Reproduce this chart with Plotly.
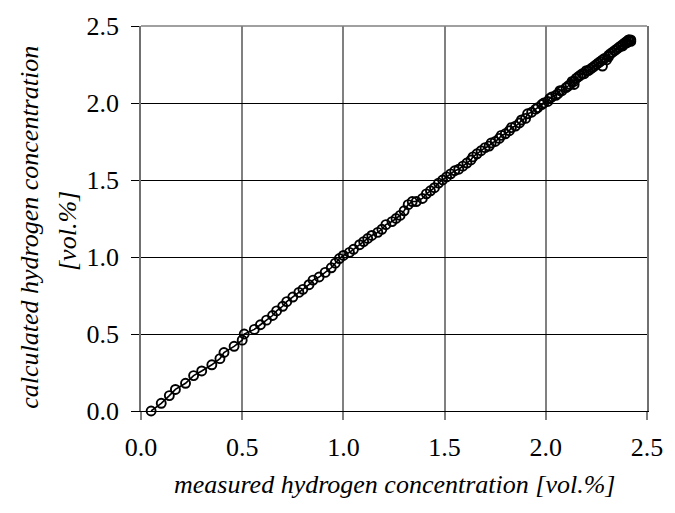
import plotly.graph_objects as go

measured = [
    0.05, 0.10, 0.14, 0.17, 0.22, 0.26, 0.30, 0.35, 0.39, 0.41, 0.46, 0.50,
    0.51, 0.56, 0.59, 0.62, 0.65, 0.67, 0.70, 0.72, 0.75, 0.78, 0.80, 0.83,
    0.85, 0.88, 0.91, 0.94, 0.96, 0.98, 1.00, 1.03, 1.05, 1.08, 1.10, 1.12,
    1.14, 1.17, 1.19, 1.21, 1.24, 1.26, 1.28, 1.30, 1.32, 1.34, 1.36, 1.39,
    1.41, 1.43, 1.45, 1.47, 1.49, 1.51, 1.53, 1.55, 1.57, 1.59, 1.61, 1.63,
    1.64, 1.66, 1.68, 1.70, 1.72, 1.73, 1.75, 1.77, 1.78, 1.80, 1.82, 1.83,
    1.85, 1.87, 1.88, 1.90, 1.91, 1.93, 1.95, 1.96, 1.98, 1.99, 2.01, 2.02,
    2.03, 2.05, 2.06, 2.07, 2.08, 2.10, 2.11, 2.12, 2.13, 2.14, 2.14, 2.15,
    2.16, 2.17, 2.18, 2.19, 2.20, 2.21, 2.22, 2.23, 2.24, 2.25, 2.26, 2.27,
    2.28, 2.28, 2.29, 2.30, 2.31, 2.31, 2.32, 2.33, 2.34, 2.35, 2.36, 2.37,
    2.38, 2.38, 2.39, 2.40, 2.41, 2.42, 2.41, 2.40, 2.42, 2.41,
]
calculated = [
    0.00, 0.05, 0.10, 0.14, 0.18, 0.23, 0.26, 0.30, 0.34, 0.38, 0.42, 0.46,
    0.50, 0.53, 0.56, 0.59, 0.62, 0.65, 0.68, 0.71, 0.74, 0.77, 0.79, 0.82,
    0.85, 0.87, 0.90, 0.93, 0.96, 0.99, 1.01, 1.03, 1.05, 1.08, 1.10, 1.12,
    1.14, 1.16, 1.18, 1.21, 1.23, 1.25, 1.27, 1.30, 1.34, 1.36, 1.36, 1.38,
    1.41, 1.43, 1.45, 1.48, 1.50, 1.52, 1.54, 1.56, 1.57, 1.59, 1.61, 1.63,
    1.65, 1.67, 1.69, 1.71, 1.72, 1.74, 1.75, 1.77, 1.79, 1.80, 1.82, 1.84,
    1.85, 1.87, 1.89, 1.90, 1.93, 1.94, 1.96, 1.97, 1.99, 2.00, 2.01, 2.03,
    2.04, 2.05, 2.06, 2.08, 2.08, 2.10, 2.11, 2.12, 2.14, 2.12, 2.14, 2.16,
    2.17, 2.18, 2.19, 2.19, 2.21, 2.21, 2.22, 2.23, 2.24, 2.25, 2.26, 2.27,
    2.24, 2.28, 2.29, 2.28, 2.30, 2.31, 2.32, 2.33, 2.34, 2.35, 2.36, 2.37,
    2.38, 2.37, 2.39, 2.39, 2.40, 2.40, 2.41, 2.40, 2.41, 2.41,
]

x_ticks = [0.0, 0.5, 1.0, 1.5, 2.0, 2.5]
y_ticks = [0.0, 0.5, 1.0, 1.5, 2.0, 2.5]
x_title = "measured hydrogen concentration [vol.%]"
y_title_1 = "calculated hydrogen concentration"
y_title_2 = "[vol.%]"

FONT = "Liberation Serif"
FS = 26

# plot area in pixels: x 141..656, y 16..411
PW, PH = 515, 395

fig = go.Figure()
fig.add_trace(go.Scatter(
    x=measured, y=calculated, mode="lines+markers",
    line=dict(color="black", width=1.6),
    marker=dict(symbol="circle-open", size=9, color="black", line=dict(width=1.9)),
    showlegend=False, cliponaxis=False,
))

fig.update_layout(
    width=675, height=513,
    margin=dict(l=141, r=19, t=16, b=102),
    paper_bgcolor="white", plot_bgcolor="white",
    font=dict(family=FONT, size=FS, color="black"),
    xaxis=dict(
        range=[0, 2.5], tickvals=x_ticks, ticktext=[f"{v:.1f}" for v in x_ticks],
        showgrid=True, gridcolor="#808080", gridwidth=1.5,
        showline=True, linecolor="black", linewidth=1.2,
        ticks="outside", ticklen=8, tickcolor="#808080", tickwidth=1.5,
        zeroline=False, ticklabelstandoff=5,
        tickfont=dict(family=FONT, size=FS),
    ),
    yaxis=dict(
        range=[0, 2.5], tickvals=y_ticks, ticktext=[f"{v:.1f}" for v in y_ticks],
        showgrid=True, gridcolor="black", gridwidth=1,
        showline=True, linecolor="#707070", linewidth=1.8, mirror=True,
        ticks="outside", ticklen=8, tickcolor="black", tickwidth=1.2,
        zeroline=False, ticklabelstandoff=7,
        tickfont=dict(family=FONT, size=FS),
    ),
    shapes=[dict(type="line", xref="paper", yref="paper", x0=0, x1=1, y0=1, y1=1,
                 line=dict(color="#808080", width=1.5))],
    annotations=[
        dict(text=f"<i>{x_title}</i>", xref="paper", yref="paper",
             x=0.5, y=(411 - 486) / PH, showarrow=False,
             xanchor="center", yanchor="middle", font=dict(family=FONT, size=FS)),
        dict(text=f"<i>{y_title_1}</i>", xref="paper", yref="paper", textangle=-90,
             x=(28 - 141) / PW, y=(411 - 222) / PH, showarrow=False,
             xanchor="center", yanchor="middle", font=dict(family=FONT, size=FS)),
        dict(text=f"<i>{y_title_2}</i>", xref="paper", yref="paper", textangle=-90,
             x=(66 - 141) / PW, y=(411 - 226) / PH, showarrow=False,
             xanchor="center", yanchor="middle", font=dict(family=FONT, size=FS)),
    ],
)

fig.write_html("out.html")
